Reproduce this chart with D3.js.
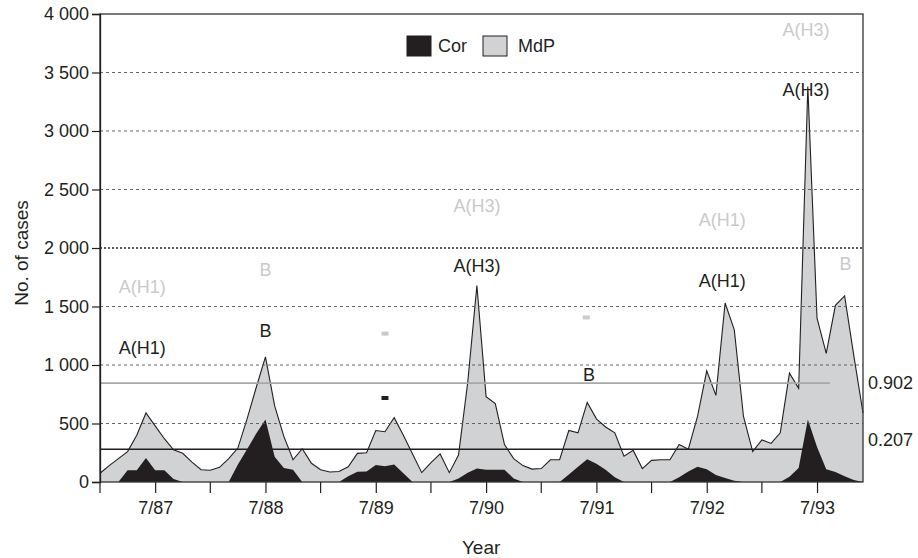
<!DOCTYPE html>
<html>
<head>
<meta charset="utf-8">
<script src="https://cdn.jsdelivr.net/npm/d3@7"></script>
<style>
  body { margin: 0; background: #fff; }
  svg text { font-family: "Liberation Sans", Arial, Helvetica, sans-serif; fill: #231f20; }
</style>
</head>
<body>
<svg id="chart" width="918" height="558"></svg>
<script>
// monthly case counts, Jan 1987 .. Dec 1993 (index 0 = Jan 87)
var mdp = [75, 140, 200, 260, 400, 590, 480, 370, 275, 245, 170, 105,
           100, 125, 200, 290, 540, 810, 1070, 650, 390, 190, 285, 160,
           105, 85, 90, 130, 245, 250, 440, 430, 550, 400, 240, 80,
           165, 240, 80, 230, 850, 1680, 730, 670, 320, 200, 140, 110,
           115, 190, 190, 440, 420, 680, 540, 470, 420, 220, 270, 115,
           185, 190, 190, 320, 280, 560, 950, 740, 1530, 1300, 560, 260,
           360, 330, 420, 930, 800, 3380, 1400, 1100, 1510, 1590, 1080, 590];

var cor = [0, 0, 0, 100, 100, 205, 100, 100, 25, 0, 0, 0,
           0, 0, 0, 150, 280, 415, 535, 215, 120, 105, 0, 0,
           0, 0, 0, 50, 88, 90, 145, 135, 150, 75, 0, 0,
           0, 0, 0, 30, 80, 115, 105, 105, 105, 30, 0, 0,
           0, 0, 0, 65, 130, 195, 155, 105, 40, 0, 0, 0,
           0, 0, 0, 40, 90, 130, 110, 60, 35, 10, 0, 0,
           0, 0, 0, 45, 120, 535, 300, 110, 85, 50, 18, 0];

var seriesNames = ['Cor', 'MdP'];
var seriesFill = {'Cor': '#231f20', 'MdP': '#d1d2d4'};

var xTickLabels = ['7/87', '7/88', '7/89', '7/90', '7/91', '7/92', '7/93'];
var xTickMonths = [6, 18, 30, 42, 54, 66, 78];
var xMinorMonths = [0, 12, 24, 36, 48, 60, 72];
var yTicks = [0, 500, 1000, 1500, 2000, 2500, 3000, 3500, 4000];

// epidemic threshold lines (value, last month drawn, label)
var thresholds = [
  {series: 'MdP', value: 845, until: 79.4, label: '0.902'},
  {series: 'Cor', value: 280, until: 76.5, label: '0.207'}
];

// virus subtype notes, anchored in data space
var notes = [
  {text: 'A(H1)', month: 4.6, value: 1667, series: 'MdP'},
  {text: 'B', month: 18, value: 1812, series: 'MdP'},
  {text: 'A(H3)', month: 41, value: 2359, series: 'MdP'},
  {text: 'A(H1)', month: 67.7, value: 2239, series: 'MdP'},
  {text: 'A(H3)', month: 76.8, value: 3863, series: 'MdP'},
  {text: 'B', month: 81.1, value: 1863, series: 'MdP'},
  {text: 'A(H1)', month: 4.6, value: 1145, series: 'Cor'},
  {text: 'B', month: 18, value: 1290, series: 'Cor'},
  {text: 'A(H3)', month: 41, value: 1846, series: 'Cor'},
  {text: 'B', month: 53.2, value: 915, series: 'Cor'},
  {text: 'A(H1)', month: 67.7, value: 1718, series: 'Cor'},
  {text: 'A(H3)', month: 76.8, value: 3350, series: 'Cor'}
];

// "no isolate" marks
var dashes = [
  {month: 31, value: 718, series: 'Cor'},
  {month: 31, value: 1268, series: 'MdP'},
  {month: 52.9, value: 1406, series: 'MdP'}
];

var margin = {top: 14, right: 55, bottom: 76, left: 100};
var width = 918 - margin.left - margin.right;
var height = 558 - margin.top - margin.bottom;

var svg = d3.select('#chart');
var g = svg.append('g')
  .attr('transform', 'translate(' + margin.left + ',' + margin.top + ')');

var x = d3.scaleLinear().domain([0, mdp.length - 1]).range([0, width]);
var y = d3.scaleLinear().domain([0, 4000]).range([height, 0]);

var fmt = d3.formatLocale({decimal: '.', thousands: ' ', grouping: [3], currency: ['', '']}).format(',');

// areas
var area = function(values){
  return d3.area()
    .x(function(d, i){ return x(i); })
    .y0(y(0))
    .y1(function(d){ return y(d); })(values);
};

g.append('path')
  .attr('d', area(mdp))
  .attr('fill', seriesFill.MdP);

g.append('path')
  .attr('d', d3.line().x(function(d, i){ return x(i); }).y(function(d){ return y(d); })(mdp))
  .attr('fill', 'none')
  .attr('stroke', '#231f20')
  .attr('stroke-width', 1.1)
  .attr('stroke-linejoin', 'miter');

g.append('path')
  .attr('d', area(cor))
  .attr('fill', seriesFill.Cor);

// grid lines
g.selectAll('.grid')
  .data(yTicks.filter(function(d){ return d > 0 && d < 4000; }))
  .enter()
  .append('line')
  .attr('x1', 0)
  .attr('x2', width)
  .attr('y1', function(d){ return y(d); })
  .attr('y2', function(d){ return y(d); })
  .attr('stroke', function(d){ return d === 2000 ? '#231f20' : '#555'; })
  .attr('stroke-width', function(d){ return d === 2000 ? 1.4 : 0.9; })
  .attr('stroke-dasharray', function(d){ return d === 2000 ? '2,2' : '3,3'; });

// threshold lines
g.selectAll('.thresh')
  .data(thresholds)
  .enter()
  .append('line')
  .attr('x1', 0)
  .attr('x2', function(d){ return x(d.until); })
  .attr('y1', function(d){ return y(d.value); })
  .attr('y2', function(d){ return y(d.value); })
  .attr('stroke', function(d){ return d.series === 'MdP' ? '#a7a8aa' : '#231f20'; })
  .attr('stroke-width', 1.6);

g.selectAll('.thresh_label')
  .data(thresholds)
  .enter()
  .append('text')
  .attr('x', width + 5)
  .attr('y', function(d){ return d.series === 'MdP' ? y(d.value) : y(d.value) - 10; })
  .attr('dy', '0.35em')
  .style('font-size', '18px')
  .text(function(d){ return d.label; });

// frame
g.append('rect')
  .attr('x', 0)
  .attr('y', 0)
  .attr('width', width)
  .attr('height', height)
  .attr('fill', 'none')
  .attr('stroke', '#333')
  .attr('stroke-width', 1.3);

// y axis
var yAxis = g.append('g')
  .call(d3.axisLeft(y).tickValues(yTicks).tickFormat(fmt).tickSize(8).tickPadding(3));
yAxis.select('.domain').attr('stroke', '#231f20').attr('stroke-width', 1.3);
yAxis.selectAll('.tick line').attr('stroke', '#231f20').attr('stroke-width', 1.2);
yAxis.selectAll('.tick text')
  .style('font-size', '18px')
  .style('font-family', '"Liberation Sans", Arial, sans-serif')
  .attr('fill', '#231f20');

// x axis: labelled July ticks plus minor January ticks
var xAxis = g.append('g')
  .attr('transform', 'translate(0,' + height + ')')
  .call(d3.axisBottom(x).tickValues(xTickMonths).tickSize(11).tickPadding(8)
    .tickFormat(function(d, i){ return xTickLabels[i]; }));
xAxis.select('.domain').remove();
xAxis.selectAll('.tick line').attr('stroke', '#231f20').attr('stroke-width', 1.2);
xAxis.selectAll('.tick text')
  .style('font-size', '18px')
  .style('font-family', '"Liberation Sans", Arial, sans-serif')
  .attr('fill', '#231f20');

g.selectAll('.minor_tick')
  .data(xMinorMonths)
  .enter()
  .append('line')
  .attr('x1', function(d){ return x(d); })
  .attr('x2', function(d){ return x(d); })
  .attr('y1', height)
  .attr('y2', height + 11)
  .attr('stroke', '#231f20')
  .attr('stroke-width', 1.2);

// axis titles
svg.append('text')
  .attr('x', margin.left + x(42) - 5)
  .attr('y', 554)
  .attr('text-anchor', 'middle')
  .style('font-size', '19px')
  .text('Year');

svg.append('text')
  .attr('transform', 'translate(28,' + (margin.top + height / 2 + 5) + ') rotate(-90)')
  .attr('text-anchor', 'middle')
  .style('font-size', '19px')
  .text('No. of cases');

// subtype notes
g.selectAll('.note')
  .data(notes)
  .enter()
  .append('text')
  .attr('x', function(d){ return x(d.month); })
  .attr('y', function(d){ return y(d.value); })
  .attr('dy', '0.35em')
  .attr('text-anchor', 'middle')
  .style('font-size', '18px')
  .style('fill', function(d){ return d.series === 'MdP' ? '#c9cacc' : '#231f20'; })
  .text(function(d){ return d.text; });

g.selectAll('.dash')
  .data(dashes)
  .enter()
  .append('rect')
  .attr('x', function(d){ return x(d.month) - 3.5; })
  .attr('y', function(d){ return y(d.value) - 2; })
  .attr('width', 7)
  .attr('height', 4)
  .attr('fill', function(d){ return d.series === 'MdP' ? '#c9cacc' : '#231f20'; });

// legend
var legend = g.append('g')
  .attr('transform', 'translate(307,22)');

var legendItem = legend.selectAll('.legend_item')
  .data(seriesNames)
  .enter()
  .append('g')
  .attr('transform', function(d, i){ return 'translate(' + (i * 76) + ',0)'; });

legendItem.append('rect')
  .attr('width', 24)
  .attr('height', 20)
  .attr('fill', function(d){ return seriesFill[d]; })
  .attr('stroke', '#231f20')
  .attr('stroke-width', 1);

legendItem.append('text')
  .attr('x', function(d){ return d === 'MdP' ? 35 : 31; })
  .attr('y', 10)
  .attr('dy', '0.35em')
  .style('font-size', '18px')
  .text(function(d){ return d; });
</script>
</body>
</html>
